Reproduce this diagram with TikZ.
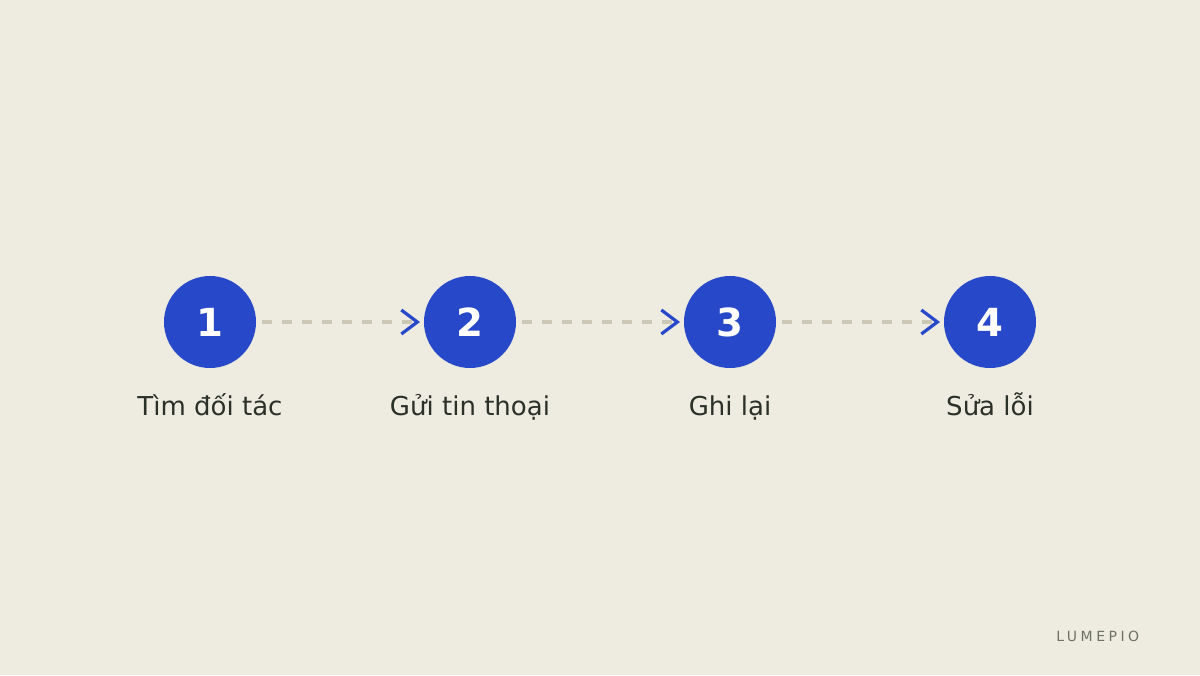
\documentclass[tikz,border=0pt]{standalone}
\usepackage{fontspec}
\setmainfont{DejaVu Sans}
\usetikzlibrary{positioning,arrows.meta}

\definecolor{paper}{HTML}{EEEBE0}
\definecolor{stepblue}{HTML}{2748C8}
\definecolor{dashgray}{HTML}{CCC8B7}
\definecolor{inkdark}{HTML}{2B3028}
\definecolor{brandgray}{HTML}{6E7266}

\begin{document}
\begin{tikzpicture}[x=0.75pt,y=-0.75pt]
 \tikzstyle{stepdot}   = [circle,fill=stepblue,text=white,minimum size=69pt,inner sep=0pt,outer sep=0pt,
                          font=\fontsize{29pt}{29pt}\selectfont\bfseries];
 \tikzstyle{steplabel} = [text=inkdark,inner sep=0pt,anchor=base,
                          font=\fontsize{19.5pt}{19.5pt}\selectfont];
 \tikzstyle{flow}      = [draw=dashgray,line width=3pt,dash pattern=on 7.5pt off 7.5pt,
                          shorten <=4.5pt,shorten >=3pt,
                          -{Straight Barb[sharp,length=12pt,width=18pt,line width=2.4pt,color=stepblue]}];
 \tikzstyle{brand}     = [text=brandgray,inner sep=0pt,anchor=base east,
                          font=\fontsize{10.5pt}{10.5pt}\selectfont\addfontfeature{LetterSpace=25}];

 \fill[paper] (0,0) rectangle (1200,675);
 \useasboundingbox (0,0) rectangle (1200,675);

 %% steps
 \node[stepdot] (s1) at (210,322) {1};
 \node[stepdot, right=126pt of s1] (s2) {2};
 \node[stepdot, right=126pt of s2] (s3) {3};
 \node[stepdot, right=126pt of s3] (s4) {4};

 %% labels
 \node[steplabel, below=35.25pt of s1, anchor=base] (l1) {Tìm đối tác};
 \node[steplabel, below=35.25pt of s2, anchor=base] (l2) {Gửi tin thoại};
 \node[steplabel, below=35.25pt of s3, anchor=base] (l3) {Ghi lại};
 \node[steplabel, below=35.25pt of s4, anchor=base] (l4) {Sửa lỗi};

 %% connectors
 \draw[flow] (s1) -- (s2);
 \draw[flow] (s2) -- (s3);
 \draw[flow] (s3) -- (s4);

 \node[brand] (logo) at (1139.5,641) {LUMEPIO};
\end{tikzpicture}
\end{document}
